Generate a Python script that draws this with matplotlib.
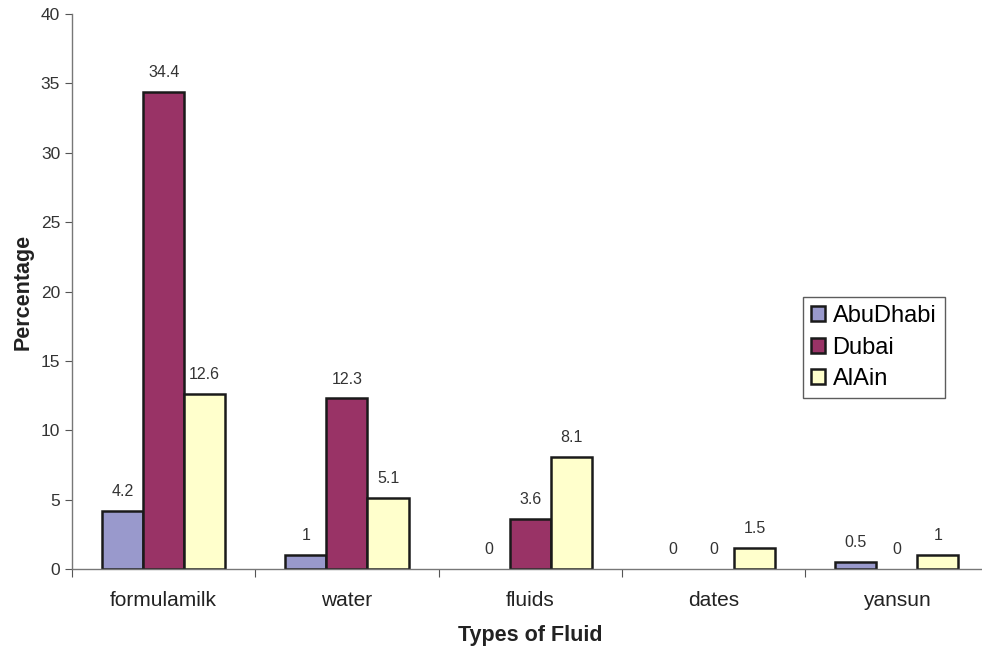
import matplotlib
matplotlib.use("Agg")
import matplotlib.pyplot as plt
import numpy as np

categories = ["formulamilk", "water", "fluids", "dates", "yansun"]
series_names = ["AbuDhabi", "Dubai", "AlAin"]
abudhabi = [4.2, 1, 0, 0, 0.5]
dubai = [34.4, 12.3, 3.6, 0, 0]
alain = [12.6, 5.1, 8.1, 1.5, 1]
colors = ["#9999CC", "#993366", "#FFFFCC"]

plt.rcParams['font.family'] = ['Liberation Sans', 'DejaVu Sans']

fig = plt.figure(figsize=(9.82, 6.49), dpi=100)
ax = fig.add_axes([72/982, 80/649, 916.5/982, 555/649])

x = np.arange(len(categories))
w = 0.224
data = [abudhabi, dubai, alain]
for i, (name, vals, c) in enumerate(zip(series_names, data, colors)):
    pos = x + (i - 1) * w
    lws = [1.8 if v > 0 else 0 for v in vals]
    ax.bar(pos, vals, width=w, color=c, edgecolor="#1a1a1a", linewidth=lws, label=name)
    for p, v in zip(pos, vals):
        ax.text(p, v + 0.85, f"{v:g}", ha="center", va="bottom", fontsize=11.5, color="#333333")

ax.set_xlim(-0.5, len(categories) - 0.5)
ax.set_ylim(0, 40)
ax.set_yticks(np.arange(0, 41, 5))
ax.set_xticks(np.arange(-0.5, len(categories), 1))
ax.set_xticklabels([])
ax.set_xticks(x, minor=True)
ax.set_xticklabels(categories, minor=True, fontsize=15, color="#222222")
ax.tick_params(axis="x", which="minor", length=0, pad=16)
ax.tick_params(axis="x", which="major", length=6, direction="out", color="#555555")
ax.tick_params(axis="y", length=5, direction="out", color="#555555", labelsize=12.5, labelcolor="#333333")

for s in ["top", "right"]:
    ax.spines[s].set_visible(False)
for s in ["left", "bottom"]:
    ax.spines[s].set_color("#777777")
    ax.spines[s].set_linewidth(1.0)

ax.set_xlabel("Types of Fluid", fontsize=15.5, fontweight="bold", color="#222222", labelpad=11)
ax.set_ylabel("Percentage", fontsize=15.5, fontweight="bold", color="#222222", labelpad=5)

leg = ax.legend(loc="upper left", bbox_to_anchor=((803-72)/916.5, (569-297)/555), fontsize=17,
                frameon=True, fancybox=False, edgecolor="#333333", handlelength=0.6, handleheight=0.6,
                handletextpad=0.3, borderpad=0.35, labelspacing=0.4, borderaxespad=0)
leg.get_frame().set_linewidth(1.0)

fig.savefig("out.png", dpi=100)
